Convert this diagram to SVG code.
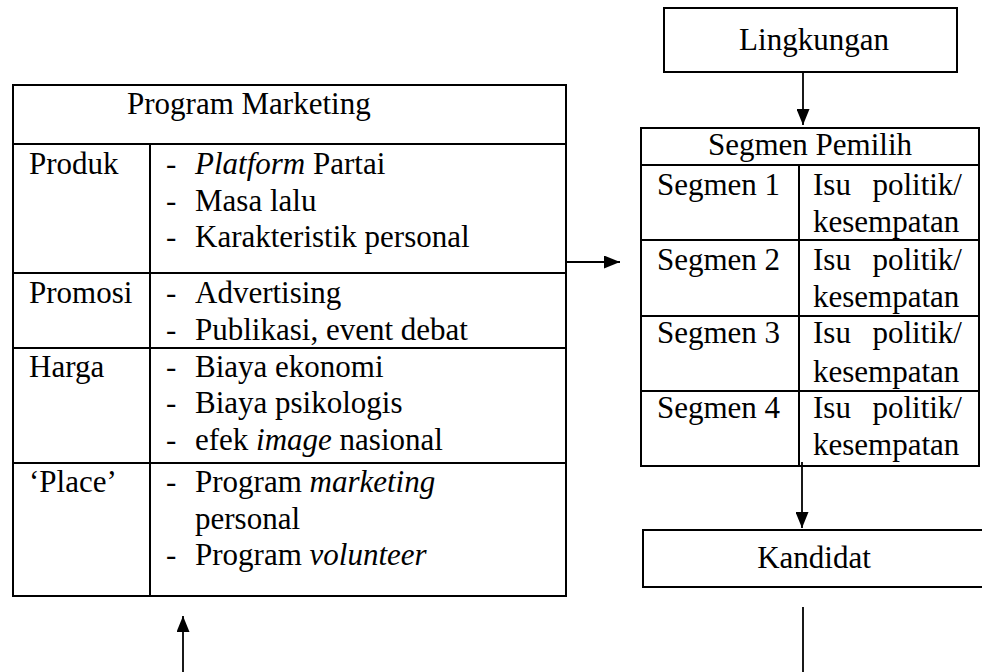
<svg xmlns="http://www.w3.org/2000/svg" width="982" height="672" viewBox="0 0 982 672">
<style>
text{font-family:"Liberation Serif","Times New Roman",serif;font-size:31px;fill:#000}
.box{fill:none;stroke:#000;stroke-width:2}
.ln{stroke:#000;stroke-width:2;fill:none}
.c{stroke:#000;stroke-width:1.8;fill:none}
.m{text-anchor:middle}
.e{text-anchor:end}
</style>
<defs>
<marker id="ah" viewBox="0 0 10 10" refX="10" refY="5" markerWidth="16" markerHeight="13" markerUnits="userSpaceOnUse" orient="auto" preserveAspectRatio="none">
<path d="M0,0 L10,5 L0,10 z" fill="#000"/>
</marker>
</defs>
<rect width="982" height="672" fill="#fff"/>

<g id="program-marketing">
<rect class="box" x="13" y="85" width="553" height="511"/>
<line class="ln" x1="13" y1="144" x2="566" y2="144"/>
<line class="ln" x1="150" y1="144" x2="150" y2="596"/>
<line class="ln" x1="13" y1="273" x2="566" y2="273"/>
<line class="ln" x1="13" y1="348" x2="566" y2="348"/>
<line class="ln" x1="13" y1="463" x2="566" y2="463"/>
<text x="127" y="114">Program Marketing</text>
<text x="29" y="174">Produk</text>
<text x="166" y="174">-</text><text x="195" y="174"><tspan font-style="italic">Platform</tspan> Partai</text>
<text x="166" y="211">-</text><text x="195" y="211">Masa lalu</text>
<text x="166" y="247">-</text><text x="195" y="247">Karakteristik personal</text>
<text x="29" y="303">Promosi</text>
<text x="166" y="303">-</text><text x="195" y="303">Advertising</text>
<text x="166" y="340">-</text><text x="195" y="340">Publikasi, event debat</text>
<text x="29" y="377">Harga</text>
<text x="166" y="377">-</text><text x="195" y="377">Biaya ekonomi</text>
<text x="166" y="413">-</text><text x="195" y="413">Biaya psikologis</text>
<text x="166" y="450">-</text><text x="195" y="450">efek <tspan font-style="italic">image</tspan> nasional</text>
<text x="29" y="492">‘Place’</text>
<text x="166" y="492">-</text><text x="195" y="492">Program <tspan font-style="italic">marketing</tspan></text>
<text x="195" y="529">personal</text>
<text x="166" y="565">-</text><text x="195" y="565">Program <tspan font-style="italic">volunteer</tspan></text>
</g>

<g id="lingkungan">
<rect class="box" x="664" y="8" width="293" height="64"/>
<text class="m" x="814" y="50">Lingkungan</text>
</g>

<g id="segmen-pemilih">
<rect class="box" x="641" y="128" width="338" height="338"/>
<line class="ln" x1="641" y1="165" x2="979" y2="165"/>
<line class="ln" x1="799" y1="165" x2="799" y2="466"/>
<line class="ln" x1="641" y1="240" x2="979" y2="240"/>
<line class="ln" x1="641" y1="316" x2="979" y2="316"/>
<line class="ln" x1="641" y1="391" x2="979" y2="391"/>
<text class="m" x="810" y="155">Segmen Pemilih</text>
<text x="657" y="195">Segmen 1</text>
<text x="813" y="195">Isu</text><text class="e" x="962" y="195">politik/</text>
<text x="813" y="232">kesempatan</text>
<text x="657" y="270">Segmen 2</text>
<text x="813" y="270">Isu</text><text class="e" x="962" y="270">politik/</text>
<text x="813" y="307">kesempatan</text>
<text x="657" y="343">Segmen 3</text>
<text x="813" y="343">Isu</text><text class="e" x="962" y="343">politik/</text>
<text x="813" y="382">kesempatan</text>
<text x="657" y="418">Segmen 4</text>
<text x="813" y="418">Isu</text><text class="e" x="962" y="418">politik/</text>
<text x="813" y="455">kesempatan</text>
</g>

<g id="kandidat">
<path class="box" d="M984,530 H643 V587 H984"/>
<text class="m" x="814" y="568">Kandidat</text>
</g>

<g id="connectors">
<line class="c" x1="803" y1="72" x2="803" y2="125" marker-end="url(#ah)"/>
<line class="c" x1="566" y1="262" x2="620" y2="262" marker-end="url(#ah)"/>
<line class="c" x1="802" y1="462" x2="802" y2="528" marker-end="url(#ah)"/>
<line class="c" x1="803" y1="607" x2="803" y2="672"/>
<line class="c" x1="183" y1="672" x2="183" y2="616" marker-end="url(#ah)"/>
</g>
</svg>
